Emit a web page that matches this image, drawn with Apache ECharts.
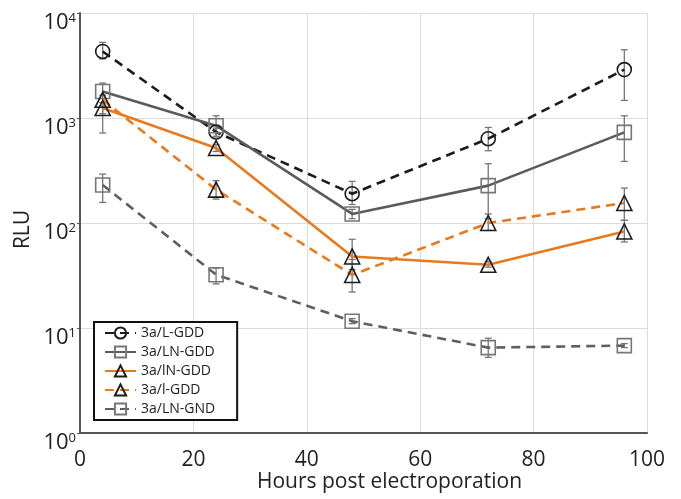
<!DOCTYPE html>
<html>
<head>
<meta charset="utf-8">
<script src="https://cdn.jsdelivr.net/npm/echarts@6/dist/echarts.min.js"></script>
<style>
  html, body { margin: 0; padding: 0; background: #fff; }
  #chart { width: 681px; height: 499px; }
</style>
</head>
<body>
<div id="chart"></div>
<script>
const hours = [4, 24, 48, 72, 96];
const xTicks = [0, 20, 40, 60, 80, 100];

// RLU means, with lower / upper error bounds
const lGdd = [4300, 735, 190, 635, 2890];
const lGddLow = [3650, 660, 150, 488, 1470];
const lGddHigh = [5250, 800, 249, 813, 4470];

const lnGdd = [1790, 845, 122, 227, 730];
const lnGddLow = [720, 670, 110, 110, 386];
const lnGddHigh = [2150, 1050, 135, 367, 1050];

const lnGddOrange = [1245, 518, 48, 40, 83];
const lnGddOrangeLow = [1100, 480, 36, 38, 66];
const lnGddOrangeHigh = [1400, 560, 70, 43, 106];

const lGddOrange = [1490, 208, 32, 100, 155];
const lGddOrangeLow = [1300, 169, 22, 85, 106];
const lGddOrangeHigh = [1650, 253, 45, 122, 215];

const lnGnd = [230, 32.2, 11.6, 6.5, 6.8];
const lnGndLow = [157, 26.3, 11, 5.25, 6.5];
const lnGndHigh = [292, 37.2, 12.3, 8.0, 7.1];

const names = ["3a/L-GDD", "3a/LN-GDD", "3a/lN-GDD", "3a/l-GDD", "3a/LN-GND"];

const chart = echarts.init(document.getElementById("chart"));

function pairs(values) {
  return hours.map((h, i) => [h, values[i]]);
}

const errorRows = [];
[
  [lGddLow, lGddHigh],
  [lnGddLow, lnGddHigh],
  [lnGddOrangeLow, lnGddOrangeHigh],
  [lGddOrangeLow, lGddOrangeHigh],
  [lnGndLow, lnGndHigh],
].forEach(([low, high]) => {
  hours.forEach((h, i) => errorRows.push([h, low[i], high[i]]));
});

function renderError(params, api) {
  const top = api.coord([api.value(0), api.value(2)]);
  const bottom = api.coord([api.value(0), api.value(1)]);
  const cap = 3.5;
  const style = { stroke: "#777", lineWidth: 1.3 };
  return {
    type: "group",
    children: [
      { type: "line", shape: { x1: top[0], y1: top[1], x2: bottom[0], y2: bottom[1] }, style },
      { type: "line", shape: { x1: top[0] - cap, y1: top[1], x2: top[0] + cap, y2: top[1] }, style },
      { type: "line", shape: { x1: bottom[0] - cap, y1: bottom[1], x2: bottom[0] + cap, y2: bottom[1] }, style },
    ],
  };
}

function lineSeries(name, values, color, type, symbol, symbolColor, size) {
  return {
    name,
    type: "line",
    data: pairs(values),
    symbol,
    symbolSize: size,
    lineStyle: { color, width: 2.6, type: type === "dashed" ? [9, 6] : "solid" },
    itemStyle: { color: "rgba(255,255,255,0)", borderColor: symbolColor, borderWidth: 1.6 },
    z: 3,
  };
}

chart.setOption({
  animation: false,
  textStyle: { fontFamily: "Open Sans" },
  grid: { left: 80, right: 34, top: 13, bottom: 66, outerBoundsMode: "none", containLabel: false },
  legend: {
    data: names,
    orient: "vertical",
    left: 94,
    top: 322,
    padding: [4, 22, 4, 10],
    itemWidth: 31,
    itemHeight: 14,
    itemGap: 5,
    backgroundColor: "#fff",
    borderColor: "#111",
    borderWidth: 2,
    borderRadius: 0,
    textStyle: { fontSize: 14, color: "#222", fontFamily: "Open Sans" },
  },
  xAxis: {
    type: "value",
    min: 0,
    max: 100,
    interval: 20,
    name: "Hours post electroporation",
    nameLocation: "middle",
    nameGap: 39,
    nameMoveOverlap: false,
    nameTextStyle: { fontSize: 21, color: "#222", padding: [0, 0, 0, 52] },
    axisLine: { lineStyle: { color: "#555", width: 2 } },
    axisTick: { show: false },
    axisLabel: {
      margin: 17,
      fontSize: 21,
      color: "#222",
      formatter: (v) => (xTicks.includes(v) ? String(v) : ""),
    },
    splitLine: { show: true, lineStyle: { color: "#dcdcdc", width: 1 } },
  },
  yAxis: {
    type: "log",
    logBase: 10,
    min: 1,
    max: 10000,
    name: "RLU",
    nameLocation: "middle",
    nameGap: 46,
    nameMoveOverlap: false,
    nameTextStyle: { fontSize: 21, color: "#222", padding: [0, 13, 0, 0] },
    axisLine: { show: true, lineStyle: { color: "#555", width: 2 } },
    axisTick: { show: true, length: 3, lineStyle: { color: "#555" } },
    axisLabel: {
      margin: 4,
      color: "#222",
      padding: [20, 0, 0, 0],
      formatter: (v) => "{b|10}{s|" + Math.round(Math.log10(v)) + "}",
      rich: {
        b: { fontSize: 22, lineHeight: 22, color: "#222", fontFamily: "Open Sans" },
        s: { fontSize: 13, lineHeight: 13, verticalAlign: "top", color: "#222", fontFamily: "Open Sans", padding: [0, 0, 4, 0] },
      },
    },
    splitLine: { show: true, lineStyle: { color: "#dcdcdc", width: 1 } },
  },
  series: [
    {
      name: "errors",
      type: "custom",
      renderItem: renderError,
      data: errorRows,
      z: 2,
      silent: true,
    },
    lineSeries(names[0], lGdd, "#1c1c1c", "dashed", "circle", "#1c1c1c", 14),
    lineSeries(names[1], lnGdd, "#5b5b5b", "solid", "rect", "#777", 14),
    lineSeries(names[2], lnGddOrange, "#e8791c", "solid", "triangle", "#1c1c1c", 15),
    lineSeries(names[3], lGddOrange, "#e8791c", "dashed", "triangle", "#1c1c1c", 15),
    lineSeries(names[4], lnGnd, "#5f5f5f", "dashed", "rect", "#777", 14),
  ],
});
</script>
</body>
</html>
